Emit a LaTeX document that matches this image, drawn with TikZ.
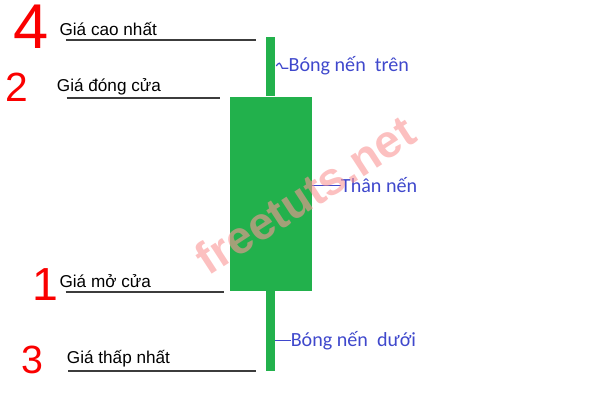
\documentclass[tikz,border=0pt]{standalone}
\usepackage{fontspec}
\setmainfont{Liberation Sans}
\newfontfamily\carlito{Carlito}
\usetikzlibrary{positioning}
\definecolor{CandleGreen}{RGB}{34,177,76}
\definecolor{NoteBlue}{RGB}{63,72,204}
\definecolor{LineGray}{RGB}{60,60,60}
\definecolor{PenRed}{RGB}{250,0,0}
\definecolor{WmPink}{RGB}{250,150,150}

\begin{document}
\begin{tikzpicture}[x=0.25mm, y=-0.25mm, inner sep=0pt,
  price/.style={font=\fontsize{12.2}{14}\selectfont, anchor=base west},
  part/.style={font=\carlito\fontsize{14.3}{16}\selectfont, text=NoteBlue, anchor=base west},
  digit/.style={text=PenRed},
  level/.style={draw=LineGray, line width=0.6mm},
  pointer/.style={draw=NoteBlue, line width=0.3mm},
  body/.style={fill=CandleGreen, minimum width=20.5mm, minimum height=48.5mm},
  wick/.style={fill=CandleGreen, minimum width=2.15mm}]
\useasboundingbox (0,0) rectangle (610,402);

% candle
\node[body] (body) at (270.5,193.75) {};
\node[wick, minimum height=14.85mm, above=0pt of body] (upwick) {};
\node[wick, minimum height=20mm, below=0pt of body] (lowwick) {};

% prices on the left
\node[price] (high) at (59.3,35) {Giá cao nhất};
\node[price] (close) at (56.7,91) {Giá đóng cửa};
\node[price] (open) at (59.3,287) {Giá mở cửa};
\node[price] (low) at (66.7,363) {Giá thấp nhất};
\draw[level] (high.base west) ++(6.4,5) -- ++(190,0);
\draw[level] (close.base west) ++(10,6.7) -- ++(153,0);
\draw[level] (open.base west) ++(6.4,5) -- ++(158,0);
\draw[level] (low.base west) ++(1.6,7.7) -- ++(188,0);

% red numbers
\node[digit, font=\fontsize{45}{45}\selectfont] (n4) at (31,27) {4};
\node[digit, font=\fontsize{29}{29}\selectfont] (n2) at (17,87) {2};
\node[digit, font=\fontsize{33}{33}\selectfont] (n1) at (45,285) {1};
\node[digit, font=\fontsize{28}{28}\selectfont] (n3) at (32,360) {3};

% parts of the candle
\node[part] (upper) at (288.3,71.7) {Bóng nến\ \ trên};
\node[part] (bodytxt) at (340.7,192.7) {Thân nến};
\node[part] (lower) at (290.5,346) {Bóng nến\ \ dưới};
\draw[pointer] ([xshift=-3mm]upper.west) .. controls ([xshift=-2.2mm,yshift=1mm]upper.west) .. ([xshift=-1.5mm,yshift=-0.6mm]upper.west) -- ([yshift=-0.6mm]upper.west);
\draw[pointer] (body.east |- bodytxt.west) -- (bodytxt.west);
\draw[pointer] (lowwick.east |- lower.west) -- (lower.west);

% watermark
\node[rotate=33, text=WmPink, opacity=0.6, font=\bfseries\fontsize{32.7}{34}\selectfont] (mark) at (305,195) {freetuts.net};
\end{tikzpicture}
\end{document}
